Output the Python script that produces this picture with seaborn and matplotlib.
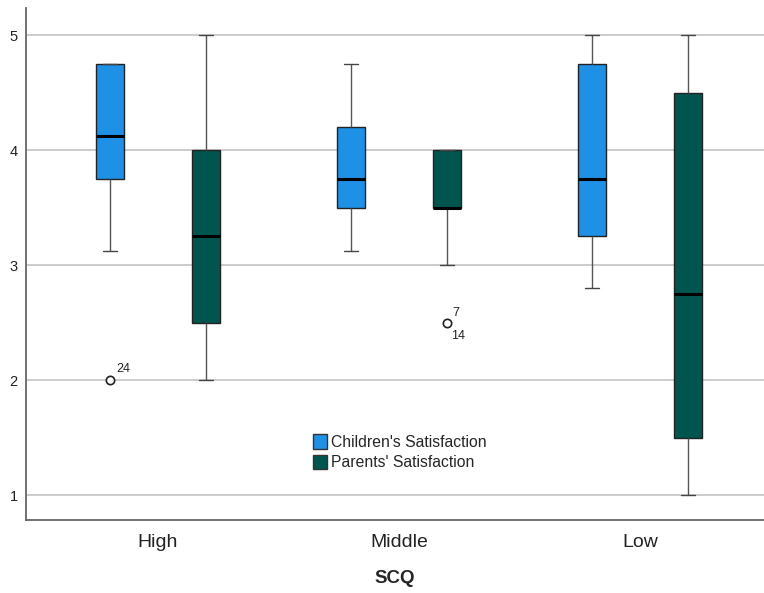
import pandas as pd
import seaborn as sns
import matplotlib.pyplot as plt
from matplotlib.patches import Patch

# Box summaries: whisker low, Q1, median, Q3, whisker high
groups = ["High", "Middle", "Low"]
series = ["Children's Satisfaction", "Parents' Satisfaction"]
children_box = {
    "High":   [3.125, 3.75, 4.125, 4.75, 4.75],
    "Middle": [3.125, 3.5, 3.75, 4.2, 4.75],
    "Low":    [2.8, 3.25, 3.75, 4.75, 5.0],
}
parents_box = {
    "High":   [2.0, 2.5, 3.25, 4.0, 5.0],
    "Middle": [3.0, 3.5, 3.5, 4.0, 4.0],
    "Low":    [1.0, 1.5, 2.75, 4.5, 5.0],
}
# Outliers
out_group = ["High", "Middle"]
out_series = ["Children's Satisfaction", "Parents' Satisfaction"]
out_value = [2.0, 2.5]
out_label = [["24"], ["7", "14"]]

colors = {"Children's Satisfaction": "#1E90E6", "Parents' Satisfaction": "#00564F"}

rows = []
for s, boxes in zip(series, [children_box, parents_box]):
    for g in groups:
        for v in boxes[g]:
            rows.append({"SCQ": g, "series": s, "value": v})
df = pd.DataFrame(rows)
df_out = pd.DataFrame({"SCQ": out_group, "series": out_series, "value": out_value})

sns.set_style("white")
plt.rcParams["font.family"] = ["Liberation Sans", "DejaVu Sans"]

fig = plt.figure(figsize=(7.64, 5.93), dpi=100)
ax = fig.add_axes([0.034, 0.123, 0.966, 0.8635])

sns.boxplot(data=df, x="SCQ", y="value", hue="series", order=groups, hue_order=series,
            palette=colors, saturation=1, whis=(0, 100), width=0.8, gap=0.71, ax=ax,
            linewidth=1, linecolor="#333333",
            boxprops=dict(edgecolor="#222222"),
            whiskerprops=dict(color="#555555"),
            capprops=dict(color="#444444"),
            medianprops=dict(color="black", linewidth=2.2),
            legend=False)

sns.stripplot(data=df_out, x="SCQ", y="value", hue="series", order=groups, hue_order=series,
              palette={s: "white" for s in series}, dodge=True, jitter=False, size=6,
              edgecolor="#222222", linewidth=1.2, ax=ax, legend=False, zorder=5)

# label outliers
for coll in ax.collections:
    offs = coll.get_offsets()
    for (x, y) in offs:
        for v, labs in zip(out_value, out_label):
            if abs(y - v) < 1e-9:
                if len(labs) == 1:
                    ax.annotate(labs[0], (x, y), xytext=(5, 6), textcoords="offset points",
                                fontsize=9, color="#222222")
                else:
                    ax.annotate(labs[0], (x, y), xytext=(4, 5), textcoords="offset points",
                                fontsize=9, color="#222222")
                    ax.annotate(labs[1], (x, y), xytext=(3, -12), textcoords="offset points",
                                fontsize=9, color="#222222")

ax.set_xlim(-0.548, 2.515)
ax.set_ylim(0.783, 5.235)
ax.set_yticks([1, 2, 3, 4, 5])
ax.yaxis.grid(True, color="#C8C8C8", linewidth=1.3)
ax.set_axisbelow(True)
for side in ["top", "right"]:
    ax.spines[side].set_visible(False)
for side in ["left", "bottom"]:
    ax.spines[side].set_color("#666666")
    ax.spines[side].set_linewidth(1.3)
ax.tick_params(axis="both", length=0)
ax.tick_params(axis="x", labelsize=14, pad=10, labelcolor="#222222")
ax.tick_params(axis="y", labelsize=10.5, pad=6, labelcolor="#222222")
ax.set_ylabel("")
ax.set_xlabel("SCQ", fontsize=13.5, fontweight="bold", labelpad=14)

handles = [Patch(facecolor=colors[s], edgecolor="#333333", label=s) for s in series]
ax.legend(handles=handles, loc="upper left", bbox_to_anchor=(0.38, 0.18), frameon=False,
          fontsize=11.3, handlelength=0.9, handleheight=1.05, handletextpad=0.25,
          labelspacing=0.3, borderaxespad=0)

fig.savefig("out.png", dpi=100)
